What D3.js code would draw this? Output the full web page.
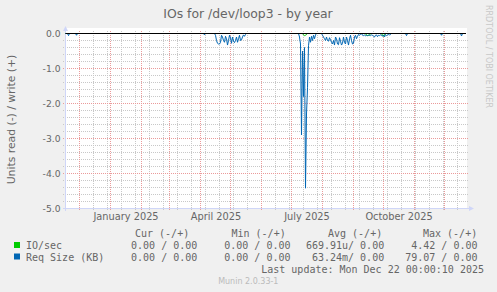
<!DOCTYPE html>
<html>
<head>
<meta charset="utf-8">
<script src="https://cdn.jsdelivr.net/npm/d3@7"></script>
<style>
  html, body { margin: 0; padding: 0; background: #f0f0f0; }
  svg { display: block; }
</style>
</head>
<body>
<div id="chart"></div>
<script>
const title = 'IOs for /dev/loop3 - by year';
const yLabel = 'Units read (-) / write (+)';
const watermark = 'RRDTOOL / TOBI OETIKER';
const startDate = '2024-11-17';
const endDate = '2025-12-22';
const yDomain = [-5, 0];

// read side (drawn negative), one value per day from each start date
const reqSizeStarts = ['2024-11-20', '2024-11-28', '2025-04-05', '2025-04-16', '2025-07-09',
  '2025-08-01', '2025-09-10', '2025-10-24', '2025-11-28', '2025-12-18'];
const reqSizeRuns = [
  [-0.06],
  [-0.05],
  [-0.04],
  [-0.05, -0.2, -0.28, -0.3, -0.3, -0.25, -0.05, -0.1, -0.2, -0.25, -0.08, -0.15, -0.33, -0.2, -0.05, -0.12,
   -0.28, -0.1, -0.22, -0.26, -0.2, -0.1, -0.25, -0.15, -0.05, -0.2, -0.18, -0.1, -0.04, -0.08, -0.03, 0],
  [-0.1, -0.3, -2.9, -0.5, -1.8, -0.4, -4.42, -2.3, -1.55, -0.35, -0.1, -0.25, -0.08, -0.2, -0.05, -0.15, -0.04, 0],
  [-0.05, -0.1, -0.15, -0.2, -0.1, -0.2, -0.22, -0.12, -0.18, -0.25, -0.3, -0.2, -0.33, -0.1, -0.15, -0.3,
   -0.32, -0.12, -0.22, -0.33, -0.28, -0.1, -0.25, -0.3, -0.1, -0.2, -0.33, -0.15, -0.05, -0.2, -0.3, -0.28,
   -0.1, -0.05, -0.15, -0.08, -0.03, -0.05, -0.02, 0],
  [-0.05, -0.06, -0.04, -0.07, -0.05, -0.06, -0.05, -0.05, -0.06, -0.04, -0.05, -0.08, -0.1, -0.05, -0.04,
   -0.09, -0.05, -0.06, -0.04, -0.05, -0.08, -0.04, -0.1, -0.03, -0.06, -0.04, -0.02, -0.05, -0.02, 0],
  [-0.06],
  [-0.05],
  [-0.07]
];
const ioStarts = ['2025-07-13', '2025-09-14', '2025-09-30'];
const ioRuns = [
  [-0.04, -0.06, -0.05, -0.03],
  [-0.05, -0.06, -0.05, -0.05],
  [-0.05, -0.08, -0.04]
];

const legendNames = ['IO/sec', 'Req Size (KB)'];
const legendColors = ['#00cc00', '#0066b3'];
const legendHeads = ['Cur (-/+)', 'Min (-/+)', 'Avg (-/+)', 'Max (-/+)'];
const curValues = ['0.00 / 0.00', '0.00 / 0.00'];
const minValues = ['0.00 / 0.00', '0.00 / 0.00'];
const avgValues = ['669.91u/ 0.00', '63.24m/ 0.00'];
const maxValues = ['4.42 / 0.00', '79.07 / 0.00'];
const lastUpdate = 'Last update: Mon Dec 22 00:00:10 2025';
const version = 'Munin 2.0.33-1';

const width = 497;
const height = 292;
const sans = '"DejaVu Sans", sans-serif';
const mono = '"DejaVu Sans Mono", monospace';
const fontColor = '#666';
const axisColor = '#cfd6f8';

const parse = d3.utcParse('%Y-%m-%d');
const t0 = parse(startDate);
const t1 = parse(endDate);

const x = d3.scaleUtc().domain([t0, t1]).range([65.5, 465.5]);
const y = d3.scaleLinear().domain(yDomain).range([208.5, 33.5]);

function daily(starts, runs) {
  const byDay = new Map();
  starts.forEach((s, i) => {
    runs[i].forEach((v, j) => byDay.set(+d3.utcDay.offset(parse(s), j), v));
  });
  return d3.utcDay.range(t0, d3.utcDay.offset(t1, 1))
    .map(d => ({ date: d, value: byDay.get(+d) || 0 }));
}

const svg = d3.select('#chart').append('svg')
  .attr('width', width)
  .attr('height', height);

svg.append('rect').attr('width', width).attr('height', height).attr('fill', '#f0f0f0');
svg.append('rect')
  .attr('x', 65).attr('y', 28)
  .attr('width', 402).attr('height', 181)
  .attr('fill', '#fff');

// grid
const grid = svg.append('g').attr('fill', 'none').attr('stroke-dasharray', '1,1');

const minorY = y.ticks(25).filter(v => Math.abs(v - Math.round(v)) > 1e-6);
const majorY = y.ticks(5).filter(v => v !== 0);
const minorX = d3.utcSunday.range(t0, t1, 2).filter(d => d.getUTCDate() !== 1);
const majorX = d3.utcMonth.range(t0, t1);

grid.append('g').attr('stroke', '#c8c8c8')
  .selectAll('line').data(minorY).join('line')
  .attr('x1', 63).attr('x2', 468)
  .attr('y1', d => y(d)).attr('y2', d => y(d));
grid.append('g').attr('stroke', '#c8c8c8')
  .selectAll('line').data(minorX).join('line')
  .attr('x1', d => x(d)).attr('x2', d => x(d))
  .attr('y1', 31).attr('y2', 211);
grid.append('g').attr('stroke', '#eb9a9a')
  .selectAll('line').data(majorY).join('line')
  .attr('x1', 63).attr('x2', 468)
  .attr('y1', d => y(d)).attr('y2', d => y(d));
grid.append('g').attr('stroke', '#eb9a9a')
  .selectAll('line').data(majorX).join('line')
  .attr('x1', d => x(d)).attr('x2', d => x(d))
  .attr('y1', 31).attr('y2', 211);

// axes lines and arrows
const axes = svg.append('g').attr('stroke', axisColor).attr('fill', axisColor);
axes.append('line').attr('x1', 65.5).attr('x2', 65.5).attr('y1', 211).attr('y2', 30);
axes.append('line').attr('x1', 63).attr('x2', 470).attr('y1', 208.5).attr('y2', 208.5);
axes.append('path').attr('stroke', 'none').attr('d', 'M63,31L65.5,26L68,31Z');
axes.append('path').attr('stroke', 'none').attr('d', 'M469,206L474,208.5L469,211Z');

// series
const line = d3.line().x(d => x(d.date)).y(d => y(d.value));
const series = [daily(ioStarts, ioRuns), daily(reqSizeStarts, reqSizeRuns)];
svg.append('g').attr('fill', 'none').attr('stroke-width', 1)
  .selectAll('path').data(series).join('path')
  .attr('stroke', (d, i) => legendColors[i])
  .attr('d', line);

// zero rule
svg.append('line')
  .attr('x1', 65.5).attr('x2', 466)
  .attr('y1', y(0)).attr('y2', y(0))
  .attr('stroke', '#000');

// tick labels
const fmt = d3.formatLocale({ decimal: '.', thousands: ',', grouping: [3], currency: ['', ''], minus: '-' }).format('.1f');
svg.append('g')
  .attr('transform', 'translate(66,0)')
  .call(d3.axisLeft(y).tickValues(y.ticks(5)).tickFormat(fmt).tickSize(0).tickPadding(5.5))
  .call(g => g.select('.domain').remove())
  .attr('font-family', sans).attr('font-size', 9.2)
  .selectAll('text').attr('fill', fontColor);

const labelDates = d3.utcMonth.every(3).range(t0, t1).map(d => d3.utcDay.offset(d, 15));
svg.append('g')
  .attr('transform', 'translate(0,208.5)')
  .call(d3.axisBottom(x).tickValues(labelDates).tickFormat(d3.utcFormat('%B %Y')).tickSize(0).tickPadding(5))
  .call(g => g.select('.domain').remove())
  .attr('font-family', sans).attr('font-size', 9.8)
  .selectAll('text').attr('fill', fontColor);

// titles
svg.append('text')
  .attr('x', 248).attr('y', 17.5)
  .attr('text-anchor', 'middle')
  .attr('font-family', sans).attr('font-size', 12.4)
  .attr('fill', fontColor)
  .text(title);

svg.append('text')
  .attr('transform', 'translate(15,119.5) rotate(-90)')
  .attr('text-anchor', 'middle')
  .attr('font-family', sans).attr('font-size', 10.8)
  .attr('fill', fontColor)
  .text(yLabel);

svg.append('text')
  .attr('transform', 'translate(485.7,5) rotate(90)')
  .attr('font-family', sans).attr('font-size', 8)
  .attr('fill', '#c8c8c8')
  .text(watermark);

// legend
const legend = svg.append('g').attr('font-family', mono).attr('font-size', 10).attr('fill', fontColor);
const headX = [135, 231.5, 328, 423];
legend.selectAll('text.head').data(legendHeads).join('text')
  .attr('class', 'head')
  .attr('x', (d, i) => headX[i]).attr('y', 236.5)
  .text(d => d);

const rowY = [249, 260.5];
legend.selectAll('rect').data(legendNames).join('rect')
  .attr('x', 14).attr('y', (d, i) => rowY[i] - 7)
  .attr('width', 6).attr('height', 6)
  .attr('fill', (d, i) => legendColors[i]);
legend.selectAll('text.name').data(legendNames).join('text')
  .attr('class', 'name')
  .attr('x', 26).attr('y', (d, i) => rowY[i])
  .text(d => d);

const colEnd = [197.3, 290.5, 384.2, 477.5];
[curValues, minValues, avgValues, maxValues].forEach((col, c) => {
  legend.append('g').attr('text-anchor', 'end')
    .selectAll('text').data(col).join('text')
    .attr('x', colEnd[c]).attr('y', (d, i) => rowY[i])
    .text(d => d);
});

legend.append('text')
  .attr('x', 484).attr('y', 272.5)
  .attr('text-anchor', 'end')
  .text(lastUpdate);

svg.append('text')
  .attr('x', 248.3).attr('y', 284)
  .attr('text-anchor', 'middle')
  .attr('font-family', sans).attr('font-size', 8)
  .attr('fill', '#bbb')
  .text(version);
</script>
</body>
</html>
